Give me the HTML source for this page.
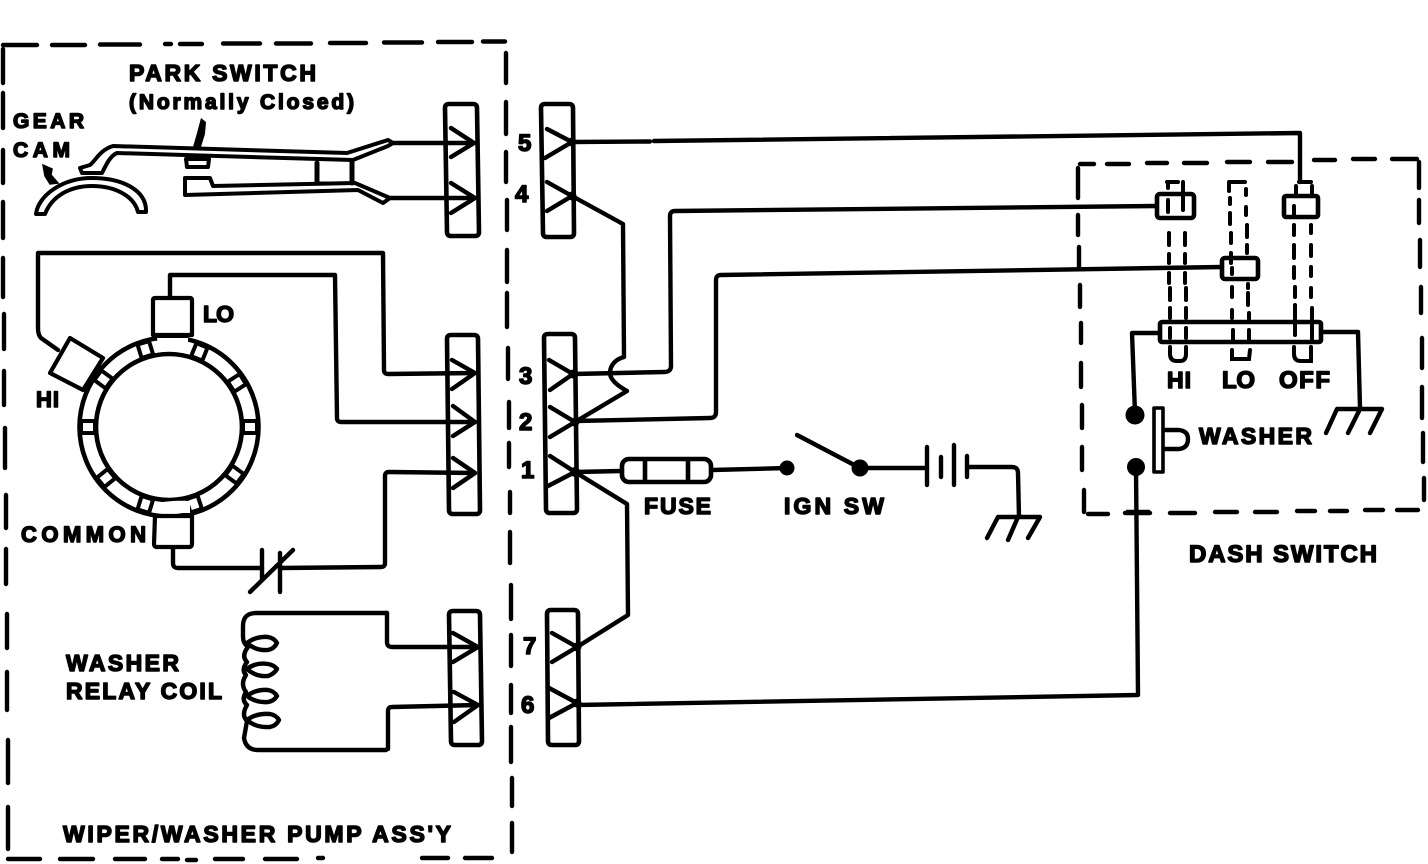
<!DOCTYPE html>
<html><head><meta charset="utf-8"><style>
html,body{margin:0;padding:0;background:#fff;width:1428px;height:864px;overflow:hidden}
svg{display:block}
text{font-family:"Liberation Sans",sans-serif;font-weight:bold;fill:#000;stroke:#000;stroke-width:1.5;stroke-linejoin:round}
</style></head><body>
<svg width="1428" height="864" viewBox="0 0 1428 864" xmlns="http://www.w3.org/2000/svg">
<rect width="1428" height="864" fill="#fff"/>

<!-- pump assembly dashed border -->
<g fill="none" stroke="#000" stroke-width="4.4" stroke-linecap="round">
<path d="M3 45H37M52 45H85M100 44.5H140M165 44H171M180 44H202M223 43.5H260M276 43.5H311M330 43H366M384 42.5H422M438 42H472M483 41.5H505"/>
<path d="M3 49V83M3 93V128M3 150V183M3 202V238M3 258V297M4 314V349M4 371V405M5 428V468M6 495V528M6 549V584M7 614V648M7 672V710M8 740V783M8 807V849"/>
<path d="M506 53V83M506 102V134M506 152V182M507 200V230M507 250V282M507 293V327M508 348V379M509 402V428M509 443V467M510 492V513M510 532V563M511 585V619M511 635V666M511 685V713M511 727V762M512 778V806M512 823V852"/>
<path d="M8 859H40M60 859H93M115 859H145M162 859H178M187 860H196M215 859H243M265 859H297M318 858H323M422 858H448M465 858H492"/>
<!-- dash switch dashed border -->
<path d="M1080 164H1094M1107 164H1129M1147 163H1167M1184 163H1207M1227 162H1250M1268 162H1292M1314 160H1335M1353 159H1375M1392 159H1417"/>
<path d="M1078 168V198M1078 215V235M1079 247V268M1080 285V307M1081 323V343M1081 363V387M1082 405V428M1082 447V470M1084 490V512"/>
<path d="M1419 162V188M1419 200V223M1420 240V267M1421 287V313M1422 338V368M1422 387V418M1423 433V462M1424 478V500"/>
<path d="M1088 514H1108M1125 513H1150M1170 513H1195M1215 512H1237M1255 512H1277M1297 511H1315M1330 511H1347M1365 510H1383M1397 510H1418"/>
</g>

<!-- connector blocks -->
<g fill="none" stroke="#000" stroke-width="4.6" stroke-linejoin="round">
<path d="M449 104H473Q477 104 477 108L479 232Q479 236 475 236H451Q447 236 447 232L445 108Q445 104 449 104Z"/>
<path d="M545 104H569Q573 104 573 108L574 233Q574 237 570 237H547Q543 237 543 233L541 108Q541 104 545 104Z"/>
<path d="M451 335H474Q478 335 478 339L480 510Q480 514 476 514H453Q449 514 449 510L447 339Q447 335 451 335Z"/>
<path d="M548 334H571Q575 334 575 338L577 509Q577 513 573 513H550Q546 513 546 509L544 338Q544 334 548 334Z"/>
<path d="M453 611H476Q480 611 480 615L482 741Q482 745 478 745H455Q451 745 451 741L449 615Q449 611 453 611Z"/>
<path d="M551 610H574Q578 610 578 614L579 741Q579 745 575 745H552Q548 745 548 741L547 614Q547 610 551 610Z"/>
</g>

<!-- terminals -->
<g fill="none" stroke="#000" stroke-width="4.4" stroke-linecap="round" stroke-linejoin="round">
<path d="M451 128L474 143L451 157M451 183L475 198L451 213"/>
<path d="M547 129L572 142L545 158M547 182L572 196L547 211"/>
<path d="M452 360L475 373L452 389M453 406L475 422L453 436M453 458L475 473L453 488"/>
<path d="M549 360L573 374L550 390M550 407L575 422L550 437M550 456L575 472L548 486"/>
<path d="M453 633L478 647L453 662M454 692L478 705L454 722"/>
<path d="M552 633L577 647L552 662M549 688L577 703L549 718"/>
</g>
<g fill="#000">
<circle cx="572" cy="142" r="4.5"/><circle cx="572" cy="196" r="4.5"/><circle cx="573" cy="374" r="4.5"/><circle cx="575" cy="422" r="4.5"/><circle cx="575" cy="472" r="5"/><circle cx="577" cy="647" r="4.5"/><circle cx="577" cy="703" r="4.5"/>
</g>

<!-- wires -->
<g fill="none" stroke="#000" stroke-width="4.4" stroke-linejoin="round" stroke-linecap="round">
<path d="M392 143H474M390 198H475"/>
<path d="M572 142L650 141.5M654 141L1300 133V182"/>
<path d="M572 196L623 224L624 357C616 359 610 365 610 373C610 380 618 386 627 391L575 422"/>
<path d="M573 374L664 372Q671 372 671 366L670 216Q670 211 675 211L1156 206"/>
<path d="M575 421L710 418Q716 418 716 412L716 280Q716 275 721 275L1222 267"/>
<path d="M575 472L621 471M712 470L787 468M860 468H927"/>
<path d="M575 472L627 504L628 615L577 647"/>
<path d="M577 705L1138 695L1136 467"/>
<path d="M968 467H1012Q1018 467 1018 473L1019 517"/>
<path d="M797 435L860 468"/>
<path d="M927 447V485M941 457V477M954 445V485M967 456V477"/>
<path d="M998 517H1040M998 517L987 538M1018 517L1008 540M1040 517L1028 538"/>
<!-- motor wires -->
<path d="M58 350L41 338Q38 335 38 328L38 253H383L384 370Q384 374 388 374L475 373"/>
<path d="M170 298V275H335L337 418Q337 422 341 422H475"/>
<path d="M173 547V563Q173 568 178 568H262M280 568L381 567Q385 567 385 563L385 476Q385 472 389 472L475 473"/>
<path d="M262 550V580M280 553V592M293 550L250 592"/>
<!-- relay coil -->
<path d="M387 613V642Q387 647 392 647H478M388 749V711Q388 707 392 707L478 705"/>
<path d="M387 613H256Q243 613 243 626V637Q243 643 248 647Q241 656 247 662Q241 670 246 675Q240 684 246 692Q241 700 247 705Q241 715 247 721L244 738Q246 750 258 750H386"/>
<path d="M247 643Q256 636 268 637Q274 638 277 643Q274 649 268 650Q256 651 247 643Z"/>
<path d="M247 669Q256 662 268 664Q274 665 277 669Q274 674 268 676Q256 677 247 669Z"/>
<path d="M247 696Q256 689 268 690Q274 691 277 696Q274 701 268 702Q256 703 247 696Z"/>
<path d="M247 720Q256 713 270 714Q276 715 279 720Q276 726 270 727Q256 728 247 720Z"/>
<!-- dash switch wiring -->
<path d="M1158 333H1132L1135 413"/>
<path d="M1323 332H1358L1360 408"/>
<path d="M1337 409H1382M1337 409L1326 433M1360 409L1348 433M1382 409L1370 433"/>
<path d="M1154 408H1163V472H1154Z" stroke-width="3.6"/>
<path d="M1165 430H1179Q1188 431 1188 439Q1188 448 1179 449H1165"/>
</g>
<circle cx="787" cy="468" r="7.5" fill="#000"/>
<circle cx="860" cy="468" r="8.5" fill="#000"/>
<circle cx="1135" cy="415" r="9.5" fill="#000"/>
<circle cx="1136" cy="467" r="9" fill="#000"/>
<path d="M1126 512H1150" stroke="#000" stroke-width="4.4"/>

<!-- fuse -->
<g fill="none" stroke="#000" stroke-width="4.6">
<rect x="622" y="459" width="89" height="23" rx="7"/>
<path d="M645 459V482M688 459V482"/>
</g>

<!-- park switch -->
<g fill="none" stroke="#000" stroke-width="4" stroke-linejoin="round" stroke-linecap="round">
<path d="M36 214C38 196 62 178 92 178C122 178 147 190 146 212H138C134 196 115 186 92 186C70 186 52 196 45 214Z" fill="#fff"/>
<path d="M113 146L347 153L388 140L393 143L388 146L353 160L117 153C110 156 106 165 102 173H82L80 168L90 165C96 160 100 150 113 146Z"/>
<path d="M186 159H209L208 167H187Z"/>
<path d="M185 178H210L213 186L355 183L383 195L390 198L383 203L358 190L185 195Z"/>
<path d="M317 163V183M352 161V183" stroke-width="5"/>
<path d="M317 183H352" stroke-width="3"/>
</g>
<path d="M43 165L52 169L51 175L58 183L50 184L45 176Z" fill="#000" stroke="#000" stroke-width="1.5"/>
<path d="M201 118L206 122L205 134L200 150L193 147L197 133Z" fill="#000"/>

<!-- motor -->
<circle cx="169" cy="427" r="89.5" fill="#fff" stroke="#000" stroke-width="4.6"/>
<circle cx="169" cy="427" r="73" fill="#fff" stroke="#000" stroke-width="4.6"/>
<g transform="translate(169 427)">
<g fill="#000">
<rect x="-8" y="-89" width="16" height="17" transform="rotate(-17)"/>
<rect x="-8" y="-89" width="16" height="17" transform="rotate(22)"/>
<rect x="-8" y="-89" width="16" height="17" transform="rotate(57)"/>
<rect x="-8" y="-89" width="16" height="17" transform="rotate(90)"/>
<rect x="-8" y="-89" width="16" height="17" transform="rotate(126)"/>
<rect x="-8" y="-89" width="16" height="17" transform="rotate(162)"/>
<rect x="-8" y="-89" width="16" height="17" transform="rotate(197)"/>
<rect x="-8" y="-89" width="16" height="17" transform="rotate(231)"/>
<rect x="-8" y="-89" width="16" height="17" transform="rotate(270)"/>
<rect x="-8" y="-89" width="16" height="17" transform="rotate(306)"/>
</g>
<g fill="#fff">
<rect x="-4" y="-86" width="8" height="10" transform="rotate(-17)"/>
<rect x="-4" y="-86" width="8" height="10" transform="rotate(22)"/>
<rect x="-4" y="-86" width="8" height="10" transform="rotate(57)"/>
<rect x="-4" y="-86" width="8" height="10" transform="rotate(90)"/>
<rect x="-4" y="-86" width="8" height="10" transform="rotate(126)"/>
<rect x="-4" y="-86" width="8" height="10" transform="rotate(162)"/>
<rect x="-4" y="-86" width="8" height="10" transform="rotate(197)"/>
<rect x="-4" y="-86" width="8" height="10" transform="rotate(231)"/>
<rect x="-4" y="-86" width="8" height="10" transform="rotate(270)"/>
<rect x="-4" y="-86" width="8" height="10" transform="rotate(306)"/>
</g>
</g>
<g fill="#fff" stroke="#000" stroke-width="4.2" stroke-linejoin="round">
<path d="M153 335V300Q153 298 155 298H190Q192 298 192 300V335Z"/>
<path d="M155 516H192V544Q192 547 189 547H157Q154 547 154 544Z"/>
<path d="M70 338L103 358L83 390L50 373Z"/>
</g>
<path d="M157 338H188V350Q172 352 159 351Z" fill="#fff"/>
<path d="M156 513H190V501Q172 500 157 503Z" fill="#fff"/>

<!-- switch slider & dashed contacts -->
<g fill="none" stroke="#000" stroke-width="4.6" stroke-linejoin="round">
<rect x="1160" y="322" width="161" height="20" rx="2"/>
<rect x="1157" y="194" width="37" height="24" rx="3"/>
<rect x="1222" y="258" width="36" height="21" rx="3"/>
<rect x="1284" y="196" width="34" height="21" rx="2"/>
</g>
<g fill="none" stroke="#000" stroke-width="4" stroke-linecap="round">
<path d="M1167 182H1178M1168 183V188M1183 182V210M1168 200V212M1169 233V245M1169 254V263M1169 273V283M1170 288V300M1170 308V318M1170 328V338M1185 233V245M1185 254V263M1185 273V283M1186 288V300M1186 308V318M1186 328V338"/>
<path d="M1170 347V354Q1170 361 1177 361H1180Q1186 361 1186 354V347"/>
<path d="M1229 182H1245M1229 182V191M1230 198V204M1230 213V224M1231 233V243M1231 253V263M1246 189V195M1246 207V215M1247 225V237M1247 245V253M1232 268V274M1232 287V297M1232 310V318M1233 330V340M1248 284V288M1248 293V305M1249 313V320M1249 330V340"/>
<path d="M1232 350V359H1249L1250 350"/>
<path d="M1299 182H1311M1296 186V196M1312 186V196M1294 206V216M1294 225V235M1294 245V258M1294 267V278M1295 287V297M1295 305V335M1311 225V233M1311 245V256M1311 267V276M1311 288V297M1312 308V340"/>
<path d="M1294 347V354Q1294 361 1301 361H1311V347"/>
</g>

<!-- labels -->
<text x="129" y="81" font-size="23" textLength="187" lengthAdjust="spacing">PARK SWITCH</text>
<text x="129" y="109" font-size="21" textLength="225" lengthAdjust="spacing">(Normally Closed)</text>
<text x="13" y="128" font-size="21" textLength="71" lengthAdjust="spacing">GEAR</text>
<text x="13" y="157" font-size="21" textLength="57" lengthAdjust="spacing">CAM</text>
<text x="203" y="322" font-size="23" textLength="31" lengthAdjust="spacing">LO</text>
<text x="36" y="407" font-size="22" textLength="23" lengthAdjust="spacing">HI</text>
<text x="21" y="542" font-size="22" textLength="125" lengthAdjust="spacing">COMMON</text>
<text x="66" y="671" font-size="23" textLength="113" lengthAdjust="spacing">WASHER</text>
<text x="66" y="699" font-size="23" textLength="156" lengthAdjust="spacing">RELAY COIL</text>
<text x="63" y="842" font-size="23" textLength="388" lengthAdjust="spacing">WIPER/WASHER PUMP ASS'Y</text>
<text x="518" y="151" font-size="24">5</text>
<text x="515" y="202" font-size="24">4</text>
<text x="519" y="384" font-size="24">3</text>
<text x="519" y="430" font-size="24">2</text>
<text x="521" y="478" font-size="24">1</text>
<text x="523" y="654" font-size="24">7</text>
<text x="521" y="713" font-size="24">6</text>
<text x="644" y="514" font-size="23" textLength="67" lengthAdjust="spacing">FUSE</text>
<text x="784" y="514" font-size="23" textLength="100" lengthAdjust="spacing">IGN SW</text>
<text x="1167" y="388" font-size="23" textLength="24" lengthAdjust="spacing">HI</text>
<text x="1222" y="388" font-size="24" textLength="33" lengthAdjust="spacing">LO</text>
<text x="1279" y="388" font-size="24" textLength="51" lengthAdjust="spacing">OFF</text>
<text x="1199" y="444" font-size="23" textLength="113" lengthAdjust="spacing">WASHER</text>
<text x="1189" y="562" font-size="24" textLength="188" lengthAdjust="spacing">DASH SWITCH</text>
</svg>
</body></html>
